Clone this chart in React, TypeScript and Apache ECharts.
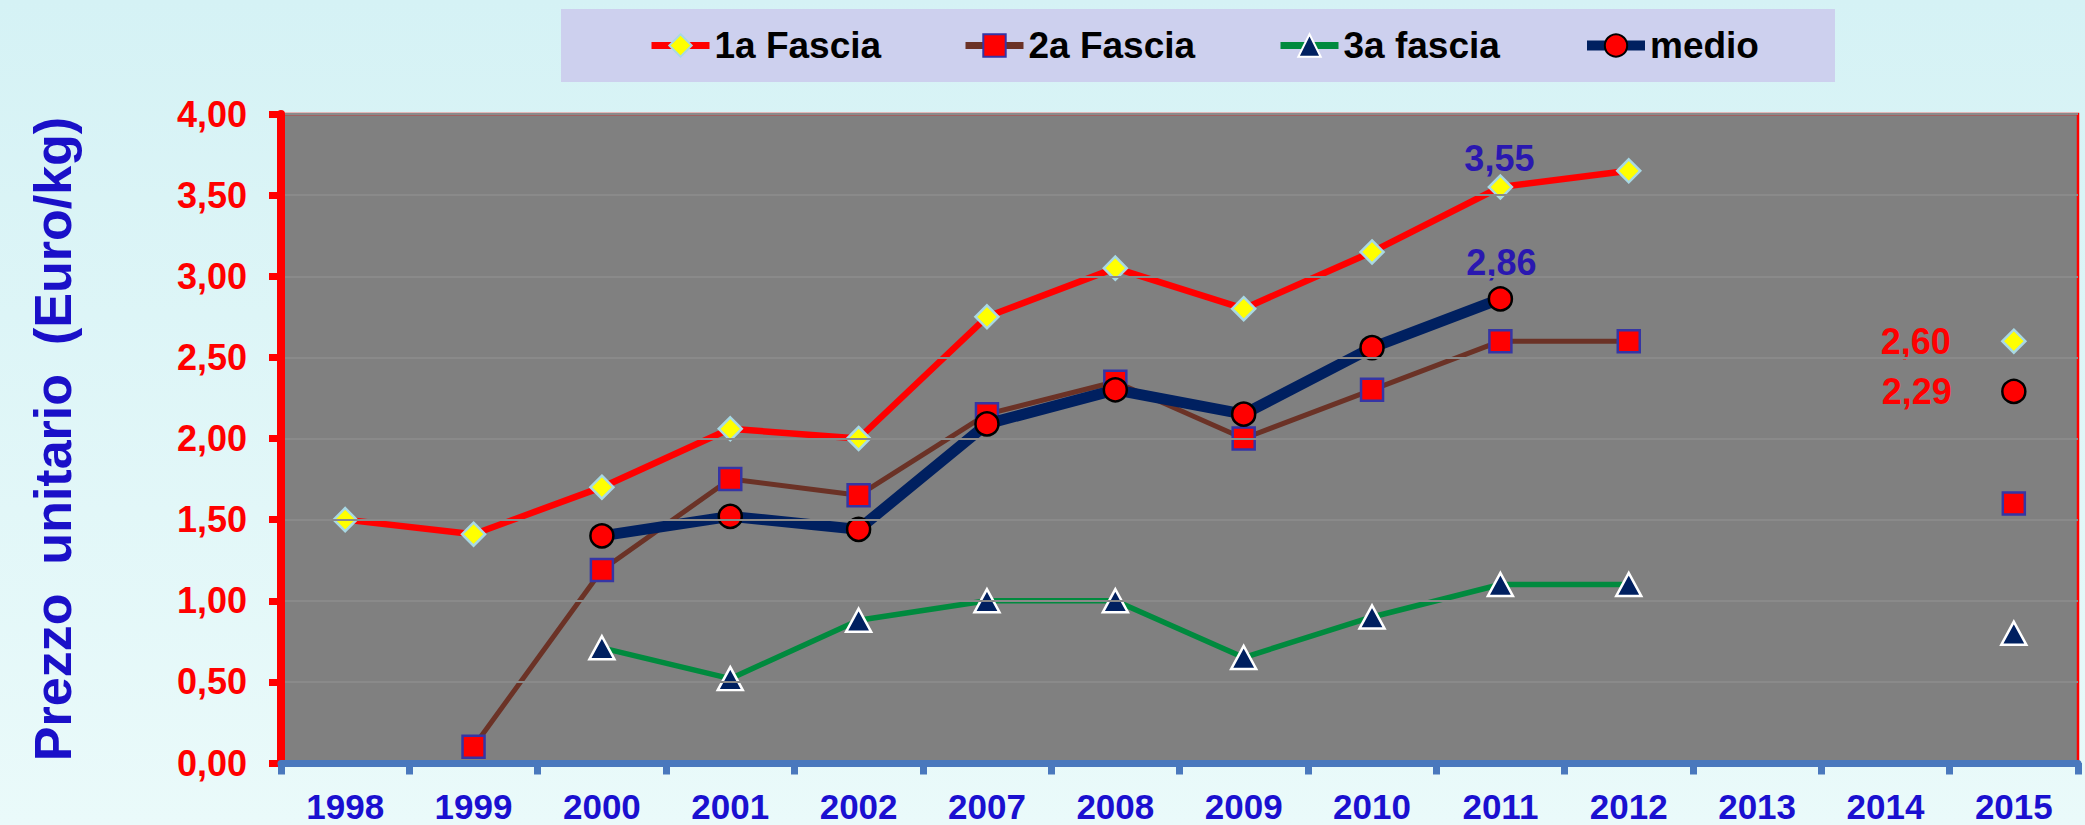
import React, { useEffect, useRef } from "react";
import * as echarts from "echarts";

const categories = ["1998", "1999", "2000", "2001", "2002", "2007", "2008", "2009", "2010", "2011", "2012", "2013", "2014", "2015"];
const fascia1 = [1.5, 1.41, 1.7, 2.06, 2.0, 2.75, 3.05, 2.8, 3.15, 3.55, 3.65, null, null, 2.6];
const fascia2 = [null, 0.1, 1.19, 1.75, 1.65, 2.15, 2.35, 2.0, 2.3, 2.6, 2.6, null, null, 1.6];
const fascia3 = [null, null, 0.71, 0.52, 0.88, 1.0, 1.0, 0.65, 0.9, 1.1, 1.1, null, null, 0.8];
const medio = [null, null, 1.4, 1.52, 1.44, 2.09, 2.3, 2.15, 2.56, 2.86, null, null, null, 2.29];
const seriesNames = ["1a Fascia", "2a Fascia", "3a fascia", "medio"];
const yTicks = { min: 0, max: 4, interval: 0.5 };

const FONT = '"Liberation Sans", Arial, Helvetica, sans-serif';
const fmt = (v: number) => v.toFixed(2).replace(".", ",");

function withLabels(values: (number | null)[], labels: Record<number, any>) {
  return values.map((v, i) => {
    if (v === null) return null;
    if (labels[i]) return { value: v, label: labels[i] };
    return v;
  });
}

const makeLabel = (offset: number[], color: string) => ({
  show: true,
  position: "inside",
  offset,
  formatter: (p: any) => fmt(p.value),
  color,
  fontSize: 36,
  fontWeight: "bold",
  fontFamily: FONT,
});

export default function App() {
  const ref = useRef<HTMLDivElement>(null);
  useEffect(() => {
    document.body.style.margin = "0";
    const chart = echarts.init(ref.current!, null, { renderer: "svg" });
    const legendLefts = [648, 962, 1277, 1582];
    const legendLineWidths = [7, 7, 7, 10];
    const option: any = {
      animation: false,
      backgroundColor: "transparent",
      graphic: [
        {
          type: "rect",
          shape: { x: 561, y: 9, width: 1274, height: 73 },
          style: { fill: "#cdd0ee" },
          z: 0,
        },
        {
          type: "text",
          x: 53,
          y: 439,
          rotation: Math.PI / 2,
          style: {
            text: "Prezzo  unitario  (Euro/kg)",
            fill: "#1a10c8",
            font: `bold 52px ${FONT}`,
            textAlign: "center",
            textVerticalAlign: "middle",
          },
        },
      ],
      legend: seriesNames.map((n, i) => ({
        data: [n],
        left: legendLefts[i],
        top: 27,
        padding: 0,
        itemWidth: 58,
        itemHeight: 28,
        lineStyle: { width: legendLineWidths[i] },
        textStyle: { fontSize: 37, fontWeight: "bold", color: "#000", fontFamily: FONT },
        z: 4,
      })),
      grid: {
        left: 281,
        right: 7,
        top: 114,
        bottom: 62,
        show: true,
        backgroundColor: "#808080",
        borderColor: "#ff0000",
        borderWidth: 2.5,
        outerBoundsMode: "none",
        containLabel: false,
      },
      xAxis: {
        type: "category",
        data: categories,
        boundaryGap: true,
        axisLine: { lineStyle: { color: "#4a78bd", width: 7 } },
        axisTick: { show: true, interval: 0, length: 11.5, lineStyle: { color: "#4a78bd", width: 7 } },
        axisLabel: {
          interval: 0,
          margin: 26,
          color: "#1a10d0",
          fontSize: 35,
          fontWeight: "bold",
          fontFamily: FONT,
        },
        splitLine: { show: false },
        z: 5,
      },
      yAxis: {
        type: "value",
        min: yTicks.min,
        max: yTicks.max,
        interval: yTicks.interval,
        axisLine: { show: true, lineStyle: { color: "#ff0000", width: 8 } },
        axisTick: { show: true, length: 12, lineStyle: { color: "#ff0000", width: 7 } },
        axisLabel: {
          margin: 34,
          color: "#ff0000",
          fontSize: 36,
          fontWeight: "bold",
          fontFamily: FONT,
          formatter: (v: number) => fmt(v),
        },
        splitLine: { show: true, lineStyle: { color: "#8a8a8a", width: 2 } },
        z: 4,
      },
      series: [
        {
          name: seriesNames[0],
          type: "line",
          data: withLabels(fascia1, { 9: makeLabel([-1, -29], "#2a18b0"), 13: makeLabel([-98, 0], "#ff0000") }),
          showAllSymbol: true,
          symbol: "diamond",
          symbolSize: 23,
          lineStyle: { color: "#ff0000", width: 6.5 },
          itemStyle: { color: "#ffff00", borderColor: "#a8d8e4", borderWidth: 2.5 },
          z: 2,
        },
        {
          name: seriesNames[1],
          type: "line",
          data: fascia2,
          showAllSymbol: true,
          symbol: "rect",
          symbolSize: 22,
          lineStyle: { color: "#6b3226", width: 5 },
          itemStyle: { color: "#ff0000", borderColor: "#3535a5", borderWidth: 2.5 },
          z: 2,
        },
        {
          name: seriesNames[2],
          type: "line",
          data: fascia3,
          showAllSymbol: true,
          symbol: "triangle",
          symbolSize: [25, 23],
          lineStyle: { color: "#008a3e", width: 5.5 },
          itemStyle: { color: "#002060", borderColor: "#ffffff", borderWidth: 2.5 },
          z: 2,
        },
        {
          name: seriesNames[3],
          type: "line",
          data: withLabels(medio, { 9: makeLabel([1, -36], "#2a18b0"), 13: makeLabel([-97, 0], "#ff0000") }),
          showAllSymbol: true,
          symbol: "circle",
          symbolSize: 23,
          lineStyle: { color: "#002060", width: 11 },
          itemStyle: { color: "#ff0000", borderColor: "#000000", borderWidth: 2.5 },
          z: 3,
        },
      ],
    };
    chart.setOption(option);
    return () => chart.dispose();
  }, []);
  return (
    <div
      ref={ref}
      style={{
        width: 2085,
        height: 825,
        background: "linear-gradient(180deg, #d5f2f5 0%, #eafafa 100%)",
      }}
    />
  );
}
